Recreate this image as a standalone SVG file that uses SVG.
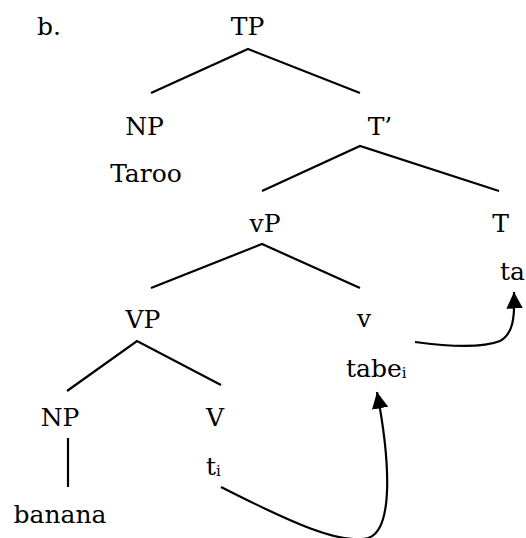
<svg xmlns="http://www.w3.org/2000/svg" width="526" height="538" viewBox="0 0 526 538">
<style>
text{font-family:"DejaVu Serif","Liberation Serif",serif;font-size:25px;fill:#000}
.m{text-anchor:middle}
.sub{font-size:15px}
.e{stroke:#000;stroke-width:2.2;fill:none}
</style>
<defs>
<marker id="ah" viewBox="0 0 10 10" refX="10" refY="5" markerWidth="7.5" markerHeight="7.5" markerUnits="strokeWidth" orient="auto">
<path d="M0,0 L10,5 L0,10 z" fill="#000"/>
</marker>
</defs>
<rect width="526" height="538" fill="#fff"/>
<text x="37" y="35">b.</text>
<g id="connectors">
<path class="e" d="M151,93 L248,49 L360,93"/>
<path class="e" d="M262,191 L360,146 L499,191"/>
<path class="e" d="M151,288 L262,244 L360,288"/>
<path class="e" d="M67,391 L137,341 L221,385"/>
<path class="e" d="M68,438 L68,487"/>
<path class="e" marker-end="url(#ah)" d="M221,487 C290,522 340,545 368,538 C394,530 390,460 377,392"/>
<path class="e" marker-end="url(#ah)" d="M415,342 C445,346 480,349 500,341 C513,334 515,318 514,292"/>
</g>
<g id="TP"><text class="m" x="247.5" y="35">TP</text></g>
<g id="NP1"><text class="m" x="144.5" y="135">NP</text></g>
<g id="Taroo"><text class="m" x="146" y="182">Taroo</text></g>
<g id="Tbar"><text class="m" x="380" y="135">T’</text></g>
<g id="vP"><text class="m" x="265" y="232">vP</text></g>
<g id="T"><text class="m" x="500.5" y="232">T</text></g>
<g id="ta"><text x="500" y="280">ta</text></g>
<g id="VP"><text class="m" x="143" y="328">VP</text></g>
<g id="v"><text class="m" x="364" y="327">v</text></g>
<g id="tabe"><text x="346" y="377">tabe<tspan class="sub" dy="1">i</tspan></text></g>
<g id="NP2"><text class="m" x="60" y="426">NP</text></g>
<g id="V"><text class="m" x="215" y="426">V</text></g>
<g id="ti"><text x="206" y="475">t<tspan class="sub" dy="1">i</tspan></text></g>
<g id="banana"><text class="m" x="60" y="523">banana</text></g>
</svg>
